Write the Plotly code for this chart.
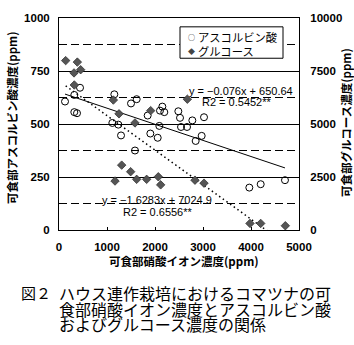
import plotly.graph_objects as go

# ---- data ----
asc_x = [125, 319, 438, 319, 375, 1153, 1111, 1236, 1292, 1500, 1618, 1583, 1847, 1903, 2056,
         2090, 2153, 2104, 2194, 2486, 2521, 2542, 2667, 2778, 3021, 2972, 2847, 3965, 4202, 4708]
asc_y = [606, 637, 671, 556, 551, 640, 505, 497, 446, 597, 617, 375, 540, 455, 435,
         491, 582, 563, 556, 560, 529, 486, 486, 517, 532, 444, 420, 200, 216, 235]

glu_x = [139, 382, 313, 451, 319, 1132, 1250, 1583, 1910, 2674, 1306, 1493, 1167, 1618, 1826,
         2069, 2118, 2833, 3021, 3979, 4202, 4715]
glu_y = [7990, 7920, 7410, 7560, 6840, 6130, 5480, 5050, 5630, 6170, 3060, 2750, 2310, 2390, 2390,
         2510, 2130, 2350, 2210, 310, 310, 200]

asc_slope, asc_int = -0.076, 650.64
glu_slope, glu_int = -1.6283, 7024.9

x_ticks = [0, 1000, 2000, 3000, 4000, 5000]
y1_ticks = [0, 250, 500, 750, 1000]
y2_ticks = [0, 2500, 5000, 7500, 10000]
x_ticktext = ["0", "1000", "2000", "3000", "4000", "5000"]
y1_ticktext = ["0", "250", "500", "750", "1000"]
y2_ticktext = ["0", "2500", "5000", "7500", "10000"]

series_names = ["アスコルビン酸", "グルコース"]
x_title = "可食部硝酸イオン濃度(ppm)"
y1_title = "可食部アスコルビン酸濃度(ppm)"
y2_title = "可食部グルコース濃度(ppm)"
eq_asc = ["y = −0.076x + 650.64", "R2 = 0.5452**"]
eq_glu = ["y = −1.6283x + 7024.9", "R2 = 0.6556**"]
caption = ["図２", "ハウス連作栽培におけるコマツナの可", "食部硝酸イオン濃度とアスコルビン酸",
           "およびグルコース濃度の関係"]

FONT = "Liberation Sans, Arial, Noto Sans CJK JP, sans-serif"
JFONT = "Noto Sans CJK JP, sans-serif"

fig = go.Figure()

# trend lines
ax0, ax1 = min(asc_x), max(asc_x)
fig.add_trace(go.Scatter(x=[ax0, ax1], y=[asc_slope * ax0 + asc_int, asc_slope * ax1 + asc_int],
                         mode="lines", line=dict(color="black", width=1), showlegend=False,
                         hoverinfo="skip"))
gx0, gx1 = min(glu_x), max(glu_x)
fig.add_trace(go.Scatter(x=[gx0, gx1], y=[glu_slope * gx0 + glu_int, glu_slope * gx1 + glu_int],
                         mode="lines", line=dict(color="black", width=1.5, dash="1.5px,3px"),
                         yaxis="y2", showlegend=False, hoverinfo="skip"))

# points
fig.add_trace(go.Scatter(x=asc_x, y=asc_y, mode="markers", name=series_names[0],
                         marker=dict(symbol="circle-open", size=7, color="black",
                                     line=dict(width=1, color="black")),
                         showlegend=False))
fig.add_trace(go.Scatter(x=glu_x, y=glu_y, mode="markers", name=series_names[1], yaxis="y2",
                         marker=dict(symbol="diamond", size=6.5, color="#555555",
                                     line=dict(width=0.8, color="#333333")),
                         showlegend=False))

fig.update_layout(
    width=354, height=345,
    margin=dict(l=59, r=55, t=14, b=115),
    paper_bgcolor="white", plot_bgcolor="white",
    font=dict(family=FONT, size=11, color="black"),
    xaxis=dict(range=[0, 5000], tickvals=x_ticks, ticktext=x_ticktext, showgrid=False,
               zeroline=False, showline=True, linecolor="black", linewidth=1, mirror=True,
               ticks="inside", ticklen=3, tickcolor="black",
               tickfont=dict(family=FONT, size=11.5, weight="bold"),
               ticklabelstandoff=6),
    yaxis=dict(range=[0, 1000], tickvals=y1_ticks, ticktext=y1_ticktext, showgrid=True,
               gridcolor="black", gridwidth=1,
               zeroline=False, showline=True, linecolor="black", linewidth=1, mirror=True,
               ticks="",
               minor=dict(dtick=125, tick0=0, showgrid=True, gridcolor="black", griddash="8px,4px",
                          gridwidth=1),
               tickfont=dict(family=FONT, size=11.5, weight="bold"),
               ticklabelstandoff=6),
    yaxis2=dict(range=[0, 10000], tickvals=y2_ticks, ticktext=y2_ticktext, overlaying="y",
                side="right", showgrid=False, zeroline=False, showline=True, linecolor="black",
                linewidth=1, ticks="", tickfont=dict(family=FONT, size=11.5, weight="bold"),
                ticklabelstandoff=8),
    showlegend=False,
)

def px2x(px):
    return (px - 59) / 240.0

def px2y(py):
    return (230 - py) / 216.0

ann = []
# axis titles
ann.append(dict(text=x_title, x=px2x(184), y=px2y(262), xref="paper", yref="paper",
                showarrow=False, font=dict(family=JFONT, size=11.5, weight="bold"),
                xanchor="center", yanchor="middle"))
ann.append(dict(text=y1_title, x=px2x(12), y=px2y(116), xref="paper", yref="paper",
                showarrow=False, textangle=-90, font=dict(family=JFONT, size=11.5, weight="bold"),
                xanchor="center", yanchor="middle"))
ann.append(dict(text=y2_title, x=px2x(346), y=px2y(121), xref="paper", yref="paper",
                showarrow=False, textangle=-90, font=dict(family=JFONT, size=11.5, weight="bold"),
                xanchor="center", yanchor="middle"))

# regression labels
ann.append(dict(text=eq_asc[0], x=px2x(241), y=px2y(88), xref="paper", yref="paper",
                showarrow=False, font=dict(family=FONT, size=11), xanchor="center", yanchor="middle"))
ann.append(dict(text=eq_asc[1], x=px2x(237), y=px2y(100), xref="paper", yref="paper",
                showarrow=False, font=dict(family=FONT, size=11), xanchor="center", yanchor="middle"))
ann.append(dict(text=eq_glu[0], x=px2x(157), y=px2y(199), xref="paper", yref="paper",
                showarrow=False, font=dict(family=FONT, size=11), xanchor="center", yanchor="middle"))
ann.append(dict(text=eq_glu[1], x=px2x(158), y=px2y(212), xref="paper", yref="paper",
                showarrow=False, font=dict(family=FONT, size=11), xanchor="center", yanchor="middle"))

# legend (manual)
ann.append(dict(text="○", x=px2x(191), y=px2y(33), xref="paper", yref="paper", showarrow=False,
                font=dict(family=JFONT, size=7), xanchor="center", yanchor="middle"))
ann.append(dict(text="◆", x=px2x(191), y=px2y(48), xref="paper", yref="paper", showarrow=False,
                font=dict(family=JFONT, size=7, color="#444444"), xanchor="center", yanchor="middle"))
ann.append(dict(text=series_names[0], x=px2x(196), y=px2y(33), xref="paper", yref="paper",
                showarrow=False, font=dict(family=JFONT, size=11.3), xanchor="left", yanchor="middle"))
ann.append(dict(text=series_names[1], x=px2x(196), y=px2y(48), xref="paper", yref="paper",
                showarrow=False, font=dict(family=JFONT, size=11.3), xanchor="left", yanchor="middle"))

# caption
ann.append(dict(text=caption[0], x=px2x(19), y=px2y(294), xref="paper", yref="paper",
                showarrow=False, font=dict(family=JFONT, size=15), xanchor="left", yanchor="middle"))
for txt, py in zip(caption[1:], [294, 310, 326]):
    ann.append(dict(text=txt, x=px2x(57), y=px2y(py), xref="paper", yref="paper",
                    showarrow=False, font=dict(family=JFONT, size=16), xanchor="left",
                    yanchor="middle"))

fig.update_layout(annotations=ann)

fig.add_shape(type="rect", xref="paper", yref="paper", x0=px2x(180), x1=px2x(283),
              y0=px2y(55), y1=px2y(23), line=dict(color="black", width=1), fillcolor="white",
              layer="above")

fig.write_html("out.html")
